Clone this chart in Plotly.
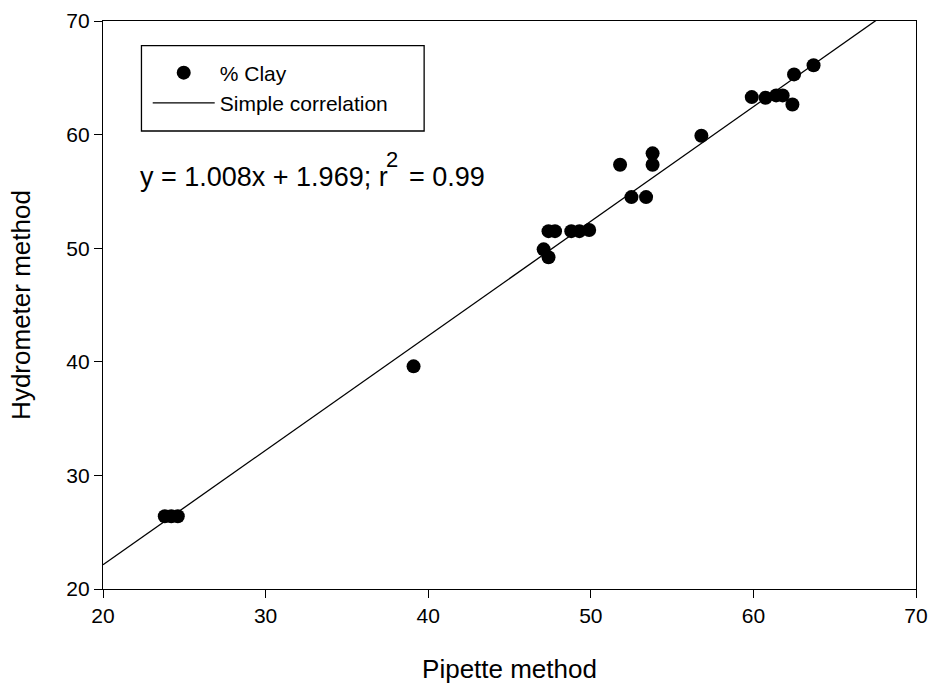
import plotly.graph_objects as go

# Clay content (%) measured by both methods
pipette = [23.8, 24.2, 24.6, 39.1, 47.1, 47.4, 47.4, 47.8, 48.8, 49.3, 49.9,
           51.8, 52.5, 53.4, 53.8, 53.8, 56.8, 59.9, 60.75, 61.4, 61.8,
           62.4, 62.5, 63.7]
hydrometer = [26.4, 26.4, 26.4, 39.6, 49.9, 49.2, 51.5, 51.5, 51.5, 51.5, 51.6,
              57.35, 54.5, 54.5, 58.35, 57.35, 59.9, 63.3, 63.25, 63.45, 63.45,
              62.65, 65.3, 66.1]

# Linear fit reported on the chart
slope = 1.008
intercept = 1.969
r_squared = 0.99
fit_x = [20, 70]
fit_y = [slope * v + intercept for v in fit_x]

axis_ticks = [20, 30, 40, 50, 60, 70]

FONT = "Liberation Sans, Arial, sans-serif"

fig = go.Figure()
fig.add_trace(go.Scatter(
    x=pipette, y=hydrometer, mode="markers", name="% Clay",
    marker=dict(color="black", size=14, line=dict(width=0)),
))
fig.add_trace(go.Scatter(
    x=fit_x, y=fit_y, mode="lines", name="Simple correlation",
    line=dict(color="black", width=1.3),
))

# regression equation, written in three pieces so the exponent stays large
eq_font = dict(family=FONT, size=27, color="black")
fig.add_annotation(
    x=0.0428, xref="paper", y=0.726, yref="paper",
    xanchor="left", yanchor="middle", showarrow=False,
    text=f"y = {slope:.3f}x + {intercept:.3f}; r", font=eq_font,
)
fig.add_annotation(
    x=0.3455, xref="paper", y=0.757, yref="paper",
    xanchor="left", yanchor="middle", showarrow=False,
    text="2", font=dict(family=FONT, size=22, color="black"),
)
fig.add_annotation(
    x=0.3735, xref="paper", y=0.726, yref="paper",
    xanchor="left", yanchor="middle", showarrow=False,
    text=f"= {r_squared:.2f}", font=eq_font,
)

# frame around the legend entries
fig.add_shape(
    type="rect", xref="paper", yref="paper",
    x0=0.0473, x1=0.395, y0=0.8063, y1=0.9565,
    line=dict(color="black", width=1.3), fillcolor="rgba(0,0,0,0)",
    layer="above",
)

axis_common = dict(
    range=[20, 70], tickvals=axis_ticks, ticks="outside", ticklen=8,
    tickwidth=1.3, tickcolor="black", showline=True, linecolor="black",
    linewidth=1.3, mirror=True, showgrid=False, zeroline=False,
    tickfont=dict(family=FONT, size=21, color="black"),
)

fig.update_xaxes(**axis_common,
                 title=dict(text="Pipette method", standoff=34,
                            font=dict(family=FONT, size=26, color="black")))
fig.update_yaxes(**axis_common,
                 title=dict(text="Hydrometer method", standoff=28,
                            font=dict(family=FONT, size=26, color="black")))

fig.update_layout(
    width=930, height=684,
    margin=dict(l=103, r=14, t=21, b=95, autoexpand=False),
    plot_bgcolor="white", paper_bgcolor="white",
    showlegend=True,
    legend=dict(
        x=0.055, y=0.9445, xanchor="left", yanchor="top",
        borderwidth=0, bgcolor="rgba(0,0,0,0)",
        font=dict(family=FONT, size=21, color="black"),
        itemwidth=62,
    ),
)

fig.write_html("out.html")
